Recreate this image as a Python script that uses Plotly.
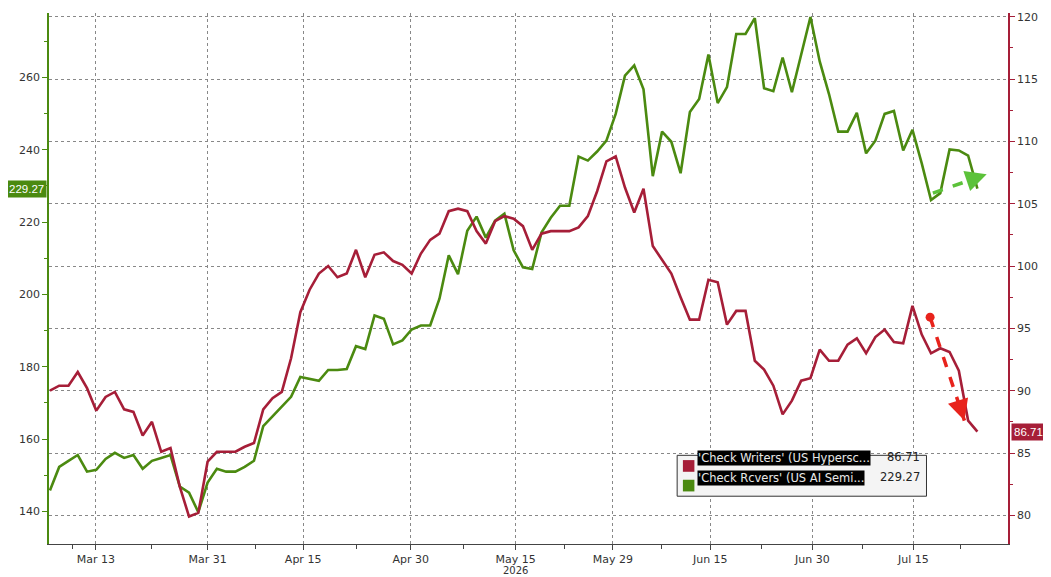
import plotly.graph_objects as go

# daily closes, one per trading day
writers = [
    90.0, 90.4, 90.4, 91.5, 90.2, 88.4, 89.5, 89.9, 88.5, 88.3, 86.4, 87.5, 85.1, 85.4,
    82.3, 79.9, 80.2, 84.3, 85.1, 85.1, 85.1, 85.5, 85.8, 88.5, 89.4, 89.9, 92.6, 96.3,
    98.1, 99.4, 100.0, 99.1, 99.4, 101.3, 99.1, 100.9, 101.1, 100.4, 100.1, 99.4, 101.0,
    102.1, 102.6, 104.4, 104.6, 104.4, 102.8, 101.8, 103.6, 104.0, 103.8, 103.2, 101.3,
    102.6, 102.8, 102.8, 102.8, 103.1, 104.0, 106.0, 108.4, 108.8, 106.3, 104.3, 106.2,
    101.6, 100.5, 99.4, 97.5, 95.7, 95.7, 98.9, 98.7, 95.3, 96.4, 96.4, 92.4, 91.7, 90.4,
    88.1, 89.2, 90.8, 91.0, 93.3, 92.4, 92.4, 93.7, 94.2, 93.0, 94.3, 94.9, 93.9, 93.8,
    96.8, 94.5, 93.0, 93.4, 93.1, 91.6, 87.6, 86.71,
]
receivers = [
    145.8, 152.3, 154.0, 155.6, 151.0, 151.5, 154.5, 156.2, 154.8, 155.6, 151.8, 154.0,
    154.8, 155.6, 146.9, 145.2, 139.8, 148.0, 151.8, 151.0, 151.0, 152.3, 154.0, 163.6,
    166.3, 169.0, 171.7, 177.2, 176.7, 176.1, 179.1, 179.1, 179.4, 185.7, 184.9, 194.2,
    193.3, 186.2, 187.3, 190.3, 191.4, 191.4, 198.8, 210.8, 205.6, 217.6, 221.5, 215.7,
    220.4, 222.3, 212.2, 207.5, 207.0, 217.1, 221.2, 224.5, 224.5, 238.1, 237.0, 239.5,
    242.5, 249.9, 260.5, 263.3, 256.7, 232.7, 245.0, 242.2, 233.5, 250.4, 254.0, 266.3,
    252.9, 257.3, 272.0, 272.0, 276.4, 257.0, 256.2, 265.5, 255.9, 266.3, 276.7, 264.4,
    255.4, 245.0, 245.0, 250.2, 239.0, 242.5, 249.9, 250.7, 239.8, 245.5, 236.2, 226.1,
    228.0, 240.1, 239.8, 238.4, 229.27,
]
tick_pos = [4.96, 17.0, 27.3, 38.9, 50.2, 60.7, 71.2, 82.2, 93.1]
tick_text = ["Mar 13", "Mar 31", "Apr 15", "Apr 30", "May 15", "May 29", "Jun 15", "Jun 30", "Jul 15"]
minor_pos = [(a + b) / 2 for a, b in zip([-0.1] + tick_pos, tick_pos + [103.3])]
right_ticks = [80, 85, 90, 95, 100, 105, 110, 115, 120]

# hand-drawn trend arrows (start, end)
red_arrow_x, red_arrow_y = [94.9, 98.6], [95.9, 87.6]
green_arrow_x, green_arrow_y = [95.2, 101.0], [228.0, 233.2]

RED = "#a61e38"
GREEN = "#4b8a10"
FONT = "DejaVu Sans"
days = list(range(len(writers)))

fig = go.Figure()
fig.add_trace(go.Scatter(x=days, y=receivers, mode="lines", line=dict(color=GREEN, width=2.6), yaxis="y"))
fig.add_trace(go.Scatter(x=days, y=writers, mode="lines", line=dict(color=RED, width=2.6), yaxis="y2"))

fig.add_trace(go.Scatter(x=red_arrow_x, y=red_arrow_y, mode="lines", yaxis="y2",
                         line=dict(color="#e8231c", width=3.5, dash="dash")))
fig.add_trace(go.Scatter(x=red_arrow_x[:1], y=red_arrow_y[:1], mode="markers", yaxis="y2",
                         marker=dict(color="#e8231c", size=9)))
fig.add_trace(go.Scatter(x=green_arrow_x, y=green_arrow_y, mode="lines", yaxis="y",
                         line=dict(color="#5cc23a", width=3.5, dash="dash")))
fig.add_annotation(x=red_arrow_x[1], y=red_arrow_y[1], ax=98.0, ay=89.0, xref="x", yref="y2",
                   axref="x", ayref="y2", text="", showarrow=True, arrowhead=2, arrowsize=1.2,
                   arrowwidth=3.5, arrowcolor="#e8231c")
fig.add_annotation(x=green_arrow_x[1], y=green_arrow_y[1], ax=99.5, ay=231.9, xref="x", yref="y",
                   axref="x", ayref="y", text="", showarrow=True, arrowhead=2, arrowsize=1.2,
                   arrowwidth=3.5, arrowcolor="#5cc23a")

# last-value tags
fig.add_annotation(x=0, xref="paper", y=receivers[-1], yref="y", xanchor="right", text="229.27",
                   showarrow=False, bgcolor=GREEN, font=dict(color="white", size=11.5, family="Liberation Sans"),
                   borderpad=2, xshift=-2)
fig.add_annotation(x=1, xref="paper", y=writers[-1], yref="y2", xanchor="left", text="86.71",
                   showarrow=False, bgcolor=RED, font=dict(color="white", size=11.5, family="Liberation Sans"),
                   borderpad=2, xshift=3)
fig.add_annotation(x=50.2, y=-0.036, xref="x", yref="paper", yanchor="top", text="2026", showarrow=False,
                   font=dict(size=10, family=FONT, color="#333"))

# legend box
fig.add_shape(type="rect", xref="paper", yref="paper", x0=0.655, x1=0.915, y0=0.09, y1=0.167,
              line=dict(color="#333", width=1), fillcolor="#f4f4f4")
for yy, col, label, val in [(0.147, RED, "'Check Writers' (US Hypersc...", "86.71"),
                            (0.110, GREEN, "'Check Rcvers' (US AI Semi...", "229.27")]:
    fig.add_shape(type="rect", xref="paper", yref="paper", x0=0.661, x1=0.673, y0=yy - 0.011, y1=yy + 0.011,
                  fillcolor=col, line=dict(width=0))
    fig.add_annotation(x=0.676, y=yy, xref="paper", yref="paper", xanchor="left", text=label,
                       showarrow=False, bgcolor="black", borderpad=0,
                       font=dict(color="#e8e8e8", size=11.5, family=FONT))
    fig.add_annotation(x=0.91, y=yy, xref="paper", yref="paper", xanchor="right", text=val,
                       showarrow=False, font=dict(color="#222", size=11.5, family=FONT))

fig.update_layout(
    width=1043, height=569, margin=dict(l=41, r=43, t=5, b=33),
    plot_bgcolor="white", paper_bgcolor="white", showlegend=False,
    font=dict(family=FONT, size=11, color="#333"),
    xaxis=dict(range=[-0.1, 103.3], tickvals=tick_pos, ticktext=tick_text, ticks="outside",
               ticklen=5, tickcolor="#444", showline=True, linecolor="#444", automargin=False,
               showgrid=True, gridcolor="#888", griddash="dot", gridwidth=1, zeroline=False,
               minor=dict(tickvals=minor_pos, ticks="outside", ticklen=4, tickcolor="#444", showgrid=False)),
    yaxis=dict(range=[131.0, 277.8], tickvals=[140, 160, 180, 200, 220, 240, 260], ticks="outside",
               ticklen=5, tickcolor=GREEN, showline=True, linecolor=GREEN, linewidth=1.5,
               showgrid=False, zeroline=False, automargin=False,
               minor=dict(dtick=10, ticks="outside", ticklen=3, tickcolor=GREEN)),
    yaxis2=dict(range=[77.7, 120.3], overlaying="y", side="right", tickvals=right_ticks,
                ticks="outside", ticklen=5, tickcolor=RED, showline=True, linecolor=RED, linewidth=1.5,
                showgrid=True, gridcolor="#888", griddash="dot", zeroline=False, automargin=False,
                minor=dict(dtick=2.5, ticks="outside", ticklen=3, tickcolor=RED)),
)
fig.write_html("out.html")
